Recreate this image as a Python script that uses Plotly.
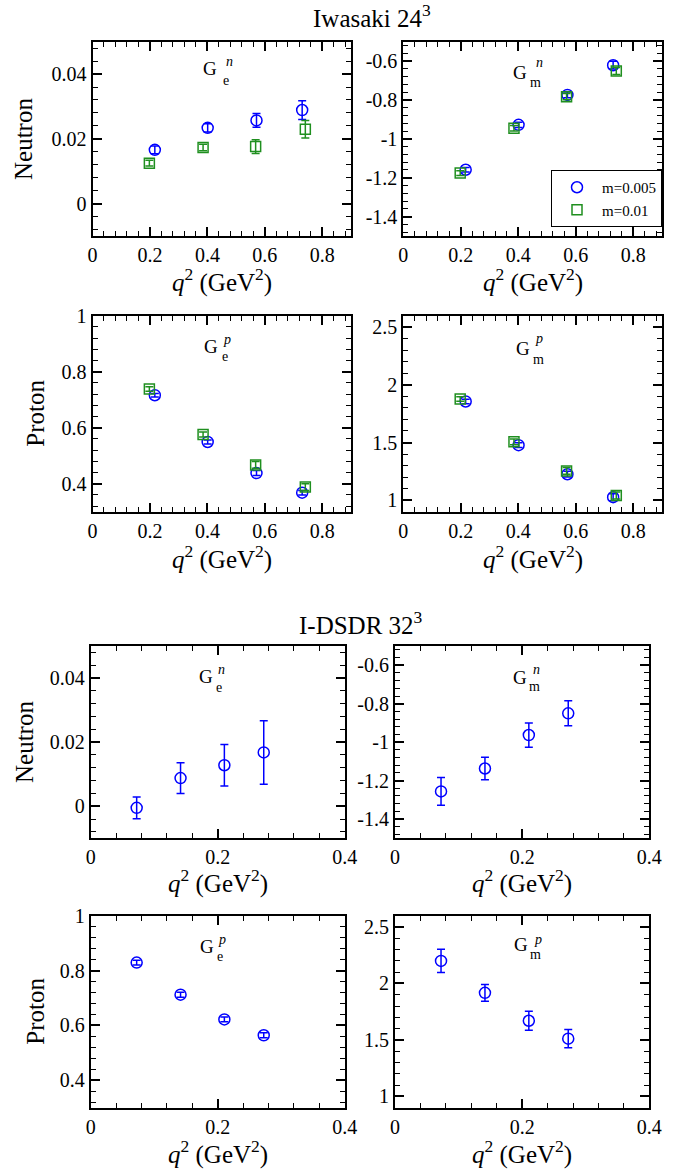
import numpy as np
import plotly.graph_objects as go

W, H = 685, 1169
FONT = "Liberation Serif"
BLUE = "#0000ff"
GREEN = "#1f8f1f"

# ---------------- data ----------------
q2_iw_m005 = [0.217, 0.401, 0.571, 0.730]
q2_iw_m01 = [0.198, 0.385, 0.568, 0.741]

GEn_iw_m005 = [0.0166, 0.0234, 0.0257, 0.0289]
GEn_iw_m005_err = [0.0012, 0.0013, 0.0021, 0.0029]
GEn_iw_m01 = [0.0125, 0.0173, 0.0176, 0.0230]
GEn_iw_m01_err = [0.0009, 0.0010, 0.0021, 0.0027]

GMn_iw_m005 = [-1.159, -0.928, -0.774, -0.621]
GMn_iw_m005_err = [0.012, 0.013, 0.015, 0.020]
GMn_iw_m01 = [-1.176, -0.945, -0.783, -0.651]
GMn_iw_m01_err = [0.012, 0.014, 0.016, 0.018]

GEp_iw_m005 = [0.716, 0.549, 0.438, 0.368]
GEp_iw_m005_err = [0.006, 0.007, 0.009, 0.008]
GEp_iw_m01 = [0.738, 0.576, 0.467, 0.388]
GEp_iw_m01_err = [0.008, 0.009, 0.012, 0.012]

GMp_iw_m005 = [1.856, 1.477, 1.225, 1.026]
GMp_iw_m005_err = [0.020, 0.020, 0.025, 0.030]
GMp_iw_m01 = [1.878, 1.506, 1.254, 1.041]
GMp_iw_m01_err = [0.020, 0.025, 0.030, 0.030]

q2_dsdr = [0.0724, 0.1415, 0.2105, 0.2725]
GEn_dsdr = [-0.0005, 0.0088, 0.0128, 0.0168]
GEn_dsdr_err = [0.0034, 0.0048, 0.0065, 0.0099]
GMn_dsdr = [-1.256, -1.137, -0.963, -0.850]
GMn_dsdr_err = [0.072, 0.058, 0.063, 0.065]
GEp_dsdr = [0.829, 0.712, 0.622, 0.564]
GEp_dsdr_err = [0.009, 0.009, 0.009, 0.009]
GMp_dsdr = [2.200, 1.917, 1.670, 1.511]
GMp_dsdr_err = [0.103, 0.074, 0.084, 0.081]

x_ticks_iw = [0, 0.2, 0.4, 0.6, 0.8]
x_ticklabels_iw = ["0", "0.2", "0.4", "0.6", "0.8"]
x_ticks_dsdr = [0, 0.2, 0.4]
x_ticklabels_dsdr = ["0", "0.2", "0.4"]
y_ticks_GEn = [0, 0.02, 0.04]
y_ticklabels_GEn = ["0", "0.02", "0.04"]
y_ticks_GMn = [-1.4, -1.2, -1.0, -0.8, -0.6]
y_ticklabels_GMn = ["-1.4", "-1.2", "-1", "-0.8", "-0.6"]
y_ticks_GEp = [0.4, 0.6, 0.8, 1.0]
y_ticklabels_GEp = ["0.4", "0.6", "0.8", "1"]
y_ticks_GMp = [1.0, 1.5, 2.0, 2.5]
y_ticklabels_GMp = ["1", "1.5", "2", "2.5"]

legend_labels = ["m=0.005", "m=0.01"]
section_titles = ["Iwasaki 24<sup>3</sup>", "I-DSDR 32<sup>3</sup>"]
row_titles = ["Neutron", "Proton", "Neutron", "Proton"]
xtitle = "<i>q</i><sup>2</sup> (GeV<sup>2</sup>)"


def PX(p):
    return p / W


def PY(p):
    return 1 - p / H


def step_vals(r, step):
    n0 = int(np.floor(r[0] / step)) - 1
    n1 = int(np.ceil(r[1] / step)) + 1
    return [round(k * step, 6) for k in range(n0, n1 + 1) if r[0] - 1e-9 <= k * step <= r[1] + 1e-9]


fig = go.Figure()

panels = [
    dict(i=1, box=(92.5, 351.0, 41.7, 236.0), xr=[0, 0.9], xt=x_ticks_iw, xl=x_ticklabels_iw, xm=0.04,
         yr=[-0.01, 0.05], yt=y_ticks_GEn, yl=y_ticklabels_GEn, ym=0.004),
    dict(i=2, box=(403.3, 662.0, 41.7, 236.0), xr=[0, 0.9], xt=x_ticks_iw, xl=x_ticklabels_iw, xm=0.04,
         yr=[-1.5, -0.5], yt=y_ticks_GMn, yl=y_ticklabels_GMn, ym=0.04),
    dict(i=3, box=(92.5, 351.0, 315.7, 511.7), xr=[0, 0.9], xt=x_ticks_iw, xl=x_ticklabels_iw, xm=0.04,
         yr=[0.3, 1.0], yt=y_ticks_GEp, yl=y_ticklabels_GEp, ym=0.04),
    dict(i=4, box=(403.3, 662.0, 315.7, 511.7), xr=[0, 0.9], xt=x_ticks_iw, xl=x_ticklabels_iw, xm=0.04,
         yr=[0.9, 2.6], yt=y_ticks_GMp, yl=y_ticklabels_GMp, ym=0.1),
    dict(i=5, box=(90.7, 344.7, 646.0, 838.3), xr=[0, 0.4], xt=x_ticks_dsdr, xl=x_ticklabels_dsdr, xm=0.04,
         yr=[-0.01, 0.05], yt=y_ticks_GEn, yl=y_ticklabels_GEn, ym=0.004),
    dict(i=6, box=(395.0, 649.3, 646.0, 838.3), xr=[0, 0.4], xt=x_ticks_dsdr, xl=x_ticklabels_dsdr, xm=0.04,
         yr=[-1.5, -0.5], yt=y_ticks_GMn, yl=y_ticklabels_GMn, ym=0.04),
    dict(i=7, box=(90.7, 344.7, 915.7, 1107.7), xr=[0, 0.4], xt=x_ticks_dsdr, xl=x_ticklabels_dsdr, xm=0.04,
         yr=[0.3, 1.0], yt=y_ticks_GEp, yl=y_ticklabels_GEp, ym=0.04),
    dict(i=8, box=(395.0, 649.3, 915.7, 1107.7), xr=[0, 0.4], xt=x_ticks_dsdr, xl=x_ticklabels_dsdr, xm=0.04,
         yr=[0.9, 2.6], yt=y_ticks_GMp, yl=y_ticklabels_GMp, ym=0.1),
]

MAJ_LEN, MIN_LEN = 9, 5
tickfont = dict(family=FONT, size=20, color="black")
layout_axes = {}
for p in panels:
    i = p["i"]
    x0, x1, yt, yb = p["box"]
    sfx = "" if i == 1 else str(i)
    common = dict(
        showline=True, linecolor="black", linewidth=2, mirror="allticks",
        ticks="inside", ticklen=MAJ_LEN, tickwidth=1.5, tickcolor="black",
        showgrid=False, zeroline=False, tickfont=tickfont, tickmode="array",
    )
    layout_axes["xaxis" + sfx] = dict(
        common, domain=[PX(x0), PX(x1)], range=p["xr"], anchor="y" + sfx,
        tickvals=p["xt"], ticktext=p["xl"],
        minor=dict(ticks="inside", ticklen=MIN_LEN, tickwidth=1.3, tickcolor="black",
                   tickmode="array", tickvals=step_vals(p["xr"], p["xm"])),
    )
    layout_axes["yaxis" + sfx] = dict(
        common, domain=[PY(yb), PY(yt)], range=p["yr"], anchor="x" + sfx,
        tickvals=p["yt"], ticktext=p["yl"],
        minor=dict(ticks="inside", ticklen=MIN_LEN, tickwidth=1.3, tickcolor="black",
                   tickmode="array", tickvals=step_vals(p["yr"], p["ym"])),
    )


def add_series(i, x, y, err, color, symbol, size, name=None, legend=False):
    sfx = "" if i == 1 else str(i)
    fig.add_trace(go.Scatter(
        x=x, y=y, mode="markers", name=name, showlegend=legend,
        xaxis="x" + sfx, yaxis="y" + sfx,
        marker=dict(symbol=symbol, size=size, color=color, line=dict(width=1.5, color=color)),
        error_y=dict(type="data", array=err, visible=True, color=color, thickness=1.5, width=4),
    ))


add_series(1, q2_iw_m005, GEn_iw_m005, GEn_iw_m005_err, BLUE, "circle-open", 11, legend_labels[0], True)
add_series(1, q2_iw_m01, GEn_iw_m01, GEn_iw_m01_err, GREEN, "square-open", 10, legend_labels[1], True)
add_series(2, q2_iw_m005, GMn_iw_m005, GMn_iw_m005_err, BLUE, "circle-open", 11)
add_series(2, q2_iw_m01, GMn_iw_m01, GMn_iw_m01_err, GREEN, "square-open", 10)
add_series(3, q2_iw_m005, GEp_iw_m005, GEp_iw_m005_err, BLUE, "circle-open", 11)
add_series(3, q2_iw_m01, GEp_iw_m01, GEp_iw_m01_err, GREEN, "square-open", 10)
add_series(4, q2_iw_m005, GMp_iw_m005, GMp_iw_m005_err, BLUE, "circle-open", 11)
add_series(4, q2_iw_m01, GMp_iw_m01, GMp_iw_m01_err, GREEN, "square-open", 10)
add_series(5, q2_dsdr, GEn_dsdr, GEn_dsdr_err, BLUE, "circle-open", 11)
add_series(6, q2_dsdr, GMn_dsdr, GMn_dsdr_err, BLUE, "circle-open", 11)
add_series(7, q2_dsdr, GEp_dsdr, GEp_dsdr_err, BLUE, "circle-open", 11)
add_series(8, q2_dsdr, GMp_dsdr, GMp_dsdr_err, BLUE, "circle-open", 11)

ann = []


def text(x, y, s, size, xanchor="center", yanchor="middle", angle=0):
    ann.append(dict(x=PX(x), y=PY(y), xref="paper", yref="paper", text=s, showarrow=False,
                    xanchor=xanchor, yanchor=yanchor, textangle=angle,
                    font=dict(family=FONT, size=size, color="black")))


text(372, 16, section_titles[0], 25)
text(361, 623, section_titles[1], 25)

for cx, cy in [(221.7, 280), (532.7, 280), (221.7, 557), (532.7, 557),
               (217.7, 881), (522.2, 881), (217.7, 1152), (522.2, 1152)]:
    text(cx, cy, xtitle, 25)

for cx, cy, s in [(24, 139, row_titles[0]), (36, 413.7, row_titles[1]),
                  (24, 742, row_titles[2]), (36, 1011.7, row_titles[3])]:
    text(cx, cy, s, 25, angle=-90)

labels = [
    (210.0, 69.0, "e", 225.5, 80.0, "n", 230.0, 61.5),
    (520.0, 72.5, "m", 535.3, 82.5, "n", 539.0, 62.5),
    (210.7, 346.7, "e", 224.5, 356.7, "p", 226.5, 339.0),
    (523.3, 348.3, "m", 538.3, 359.0, "p", 539.0, 338.0),
    (206.3, 676.7, "e", 219.5, 687.0, "n", 221.7, 669.0),
    (519.7, 677.0, "m", 534.0, 686.0, "n", 536.7, 669.0),
    (207.0, 946.7, "e", 220.0, 956.7, "p", 222.3, 940.0),
    (520.7, 944.0, "m", 535.0, 954.0, "p", 538.3, 939.0),
]
for gx, gy, sub, sx, sy, sup, ux, uy in labels:
    text(gx, gy, "G", 19)
    text(sx, sy, sub, 14)
    text(ux, uy, "<i>" + sup + "</i>", 14)

fig.update_layout(
    template="none",
    width=W, height=H, autosize=False,
    margin=dict(l=0, r=0, t=0, b=0),
    paper_bgcolor="white", plot_bgcolor="white",
    annotations=ann,
    legend=dict(x=PX(662), y=PY(170), xanchor="right", yanchor="top",
                bordercolor="black", borderwidth=1, bgcolor="white",
                font=dict(family=FONT, size=15, color="black"),
                tracegroupgap=0, itemwidth=40),
    **layout_axes,
)

fig.write_html("out.html")
